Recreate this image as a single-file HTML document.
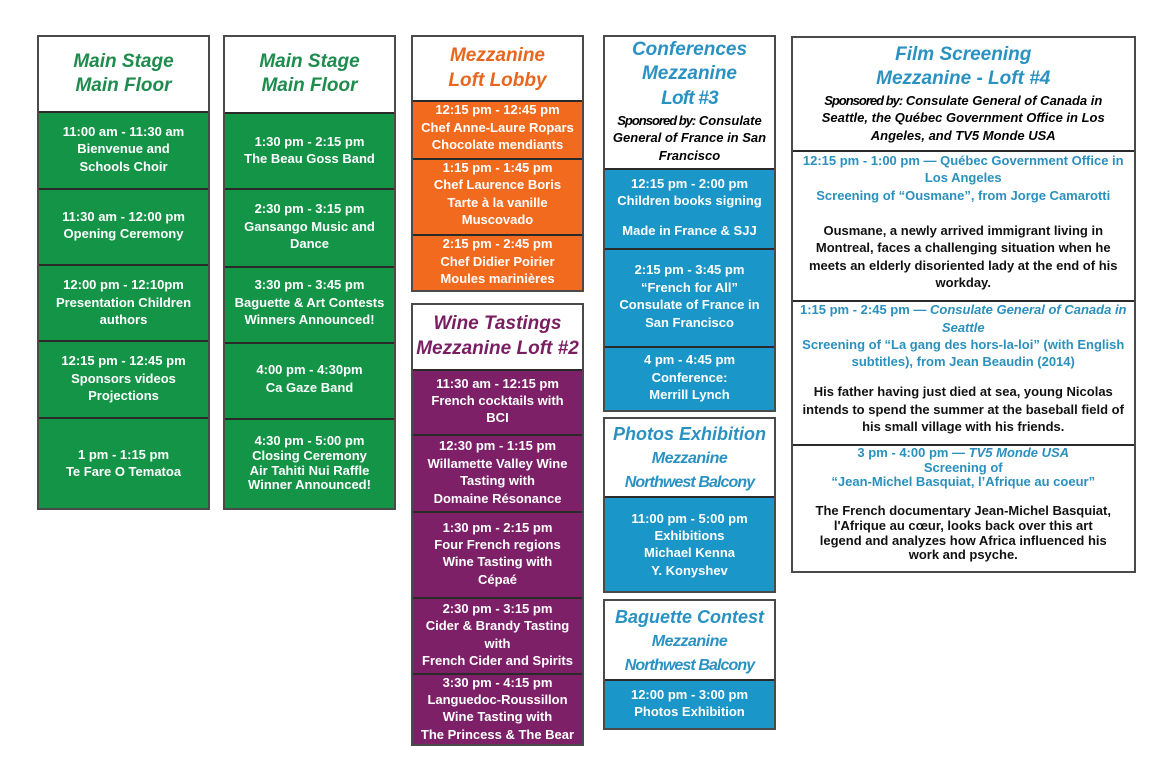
<!DOCTYPE html>
<html><head><meta charset="utf-8">
<style>
*{margin:0;padding:0;box-sizing:border-box}
html,body{width:1170px;height:757px;background:#fff;overflow:hidden}
body{position:relative;font-family:"Liberation Sans",Arial,sans-serif;font-weight:bold}
.box{position:absolute;border:2px solid #4a4a4a;background:#fff;overflow:hidden}
.c{position:absolute;left:0;right:0;border-top:2px solid #2a2a2a}
.g{background:#139447}.o{background:#f26a1e}.p{background:#7d2068}.b{background:#1a96c8}
.t{position:absolute;text-align:center;white-space:nowrap;font-size:13px;line-height:17.4px;color:#fff}
.h{font-style:italic;font-size:19px;line-height:24.5px}
.hg{color:#1d8c4d}.ho{color:#e8661d}.hp{color:#7a1e62}.hb{color:#2a92c2}
.sp{font-style:italic;font-size:13px;line-height:17.3px;color:#000}
.sp .k{letter-spacing:-1px}
.bl{color:#2a90bd}.bk{color:#111}
</style></head><body>

<!-- Column 1 -->
<div class="box" style="left:37px;top:35px;width:173px;height:475px">
  <div class="c g" style="top:74px;height:79px"></div>
  <div class="c g" style="top:151px;height:78px"></div>
  <div class="c g" style="top:227px;height:78px"></div>
  <div class="c g" style="top:303px;height:79px"></div>
  <div class="c g" style="top:380px;height:91px"></div>
</div>
<div class="t h hg" style="left:37px;width:173px;top:49.5px">Main Stage<br>Main Floor</div>
<div class="t" style="left:37px;width:173px;top:123px">11:00 am - 11:30 am<br>Bienvenue and<br>Schools Choir</div>
<div class="t" style="left:37px;width:173px;top:208px">11:30 am - 12:00 pm<br>Opening Ceremony</div>
<div class="t" style="left:37px;width:173px;top:276.3px">12:00 pm - 12:10pm<br>Presentation Children<br>authors</div>
<div class="t" style="left:37px;width:173px;top:352.3px">12:15 pm - 12:45 pm<br>Sponsors videos<br>Projections</div>
<div class="t" style="left:37px;width:173px;top:445.6px">1 pm - 1:15 pm<br>Te Fare O Tematoa</div>

<!-- Column 2 -->
<div class="box" style="left:223px;top:35px;width:173px;height:475px">
  <div class="c g" style="top:74.5px;height:78.5px"></div>
  <div class="c g" style="top:151px;height:79.5px"></div>
  <div class="c g" style="top:228.5px;height:78px"></div>
  <div class="c g" style="top:304.5px;height:78.5px"></div>
  <div class="c g" style="top:381px;height:90px"></div>
</div>
<div class="t h hg" style="left:223px;width:173px;top:49.5px">Main Stage<br>Main Floor</div>
<div class="t" style="left:223px;width:173px;top:133px">1:30 pm - 2:15 pm<br>The Beau Goss Band</div>
<div class="t" style="left:223px;width:173px;top:200.3px">2:30 pm - 3:15 pm<br>Gansango Music and<br>Dance</div>
<div class="t" style="left:223px;width:173px;top:276.3px">3:30 pm - 3:45 pm<br>Baguette &amp; Art Contests<br>Winners Announced!</div>
<div class="t" style="left:223px;width:173px;top:361.3px">4:00 pm - 4:30pm<br>Ca Gaze Band</div>
<div class="t" style="left:223px;width:173px;top:434.4px;line-height:14.6px">4:30 pm - 5:00 pm<br>Closing Ceremony<br>Air Tahiti Nui Raffle<br>Winner Announced!</div>

<!-- Column 3 orange -->
<div class="box" style="left:411px;top:35px;width:173px;height:257px">
  <div class="c o" style="top:63px;height:60px"></div>
  <div class="c o" style="top:121.3px;height:78px"></div>
  <div class="c o" style="top:197.3px;height:58px"></div>
</div>
<div class="t h ho" style="left:411px;width:173px;top:42.5px;line-height:25px">Mezzanine<br>Loft Lobby</div>
<div class="t" style="left:411px;width:173px;top:101.3px">12:15 pm - 12:45 pm<br>Chef Anne-Laure Ropars<br>Chocolate mendiants</div>
<div class="t" style="left:411px;width:173px;top:159px">1:15 pm - 1:45 pm<br>Chef Laurence Boris<br>Tarte à la vanille<br>Muscovado</div>
<div class="t" style="left:411px;width:173px;top:235.3px">2:15 pm - 2:45 pm<br>Chef Didier Poirier<br>Moules marinières</div>

<!-- Wine -->
<div class="box" style="left:411px;top:302.5px;width:173px;height:443.5px">
  <div class="c p" style="top:64.5px;height:67.3px"></div>
  <div class="c p" style="top:129.8px;height:78.7px"></div>
  <div class="c p" style="top:206.5px;height:87.7px"></div>
  <div class="c p" style="top:292.2px;height:78.6px"></div>
  <div class="c p" style="top:368.8px;height:71px"></div>
</div>
<div class="t h hp" style="left:411px;width:173px;top:310.8px;line-height:25px">Wine Tastings<br>Mezzanine Loft #2</div>
<div class="t" style="left:411px;width:173px;top:374.6px">11:30 am - 12:15 pm<br>French cocktails with<br>BCI</div>
<div class="t" style="left:411px;width:173px;top:437.3px">12:30 pm - 1:15 pm<br>Willamette Valley Wine<br>Tasting with<br>Domaine Résonance</div>
<div class="t" style="left:411px;width:173px;top:518.6px">1:30 pm - 2:15 pm<br>Four French regions<br>Wine Tasting with<br>Cépaé</div>
<div class="t" style="left:411px;width:173px;top:600px">2:30 pm - 3:15 pm<br>Cider &amp; Brandy Tasting<br>with<br>French Cider and Spirits</div>
<div class="t" style="left:411px;width:173px;top:674px;line-height:17.2px">3:30 pm - 4:15 pm<br>Languedoc-Roussillon<br>Wine Tasting with<br>The Princess &amp; The Bear</div>

<!-- Column 4 conferences -->
<div class="box" style="left:603px;top:35px;width:173px;height:377px">
  <div class="c b" style="top:130.7px;height:82px"></div>
  <div class="c b" style="top:210.7px;height:100px"></div>
  <div class="c b" style="top:308.7px;height:66.3px"></div>
</div>
<div class="t h hb" style="left:603px;width:173px;top:37.6px;line-height:24.7px">Conferences<br>Mezzanine<br><span style="letter-spacing:-0.8px">Loft #3</span></div>
<div class="t sp" style="left:603px;width:173px;top:112px"><span class="k">Sponsored by:</span> Consulate<br>General of France in San<br>Francisco</div>
<div class="t" style="left:603px;width:173px;top:174.6px">12:15 pm - 2:00 pm<br>Children books signing</div>
<div class="t" style="left:603px;width:173px;top:222.3px">Made in France &amp; SJJ</div>
<div class="t" style="left:603px;width:173px;top:261.3px">2:15 pm - 3:45 pm<br>“French for All”<br>Consulate of France in<br>San Francisco</div>
<div class="t" style="left:603px;width:173px;top:351.3px">4 pm - 4:45 pm<br>Conference:<br>Merrill Lynch</div>

<!-- Photos -->
<div class="box" style="left:603px;top:417px;width:173px;height:176px">
  <div class="c b" style="top:77.3px;height:94.7px"></div>
</div>
<div class="t h hb" style="left:603px;width:173px;top:422.6px;line-height:23.3px;font-size:18px">Photos Exhibition<br><span style="font-size:16px;letter-spacing:-0.5px">Mezzanine</span><br><span style="font-size:16px;letter-spacing:-0.9px">Northwest Balcony</span></div>
<div class="t" style="left:603px;width:173px;top:509.6px">11:00 pm - 5:00 pm<br>Exhibitions<br>Michael Kenna<br>Y. Konyshev</div>

<!-- Baguette -->
<div class="box" style="left:603px;top:599px;width:173px;height:131px">
  <div class="c b" style="top:78.3px;height:48.7px"></div>
</div>
<div class="t h hb" style="left:603px;width:173px;top:605.7px;line-height:23.2px;font-size:18px">Baguette Contest<br><span style="font-size:16px;letter-spacing:-0.5px">Mezzanine</span><br><span style="font-size:16px;letter-spacing:-0.9px">Northwest Balcony</span></div>
<div class="t" style="left:603px;width:173px;top:687.2px;line-height:16.8px">12:00 pm - 3:00 pm<br>Photos Exhibition</div>

<!-- Film -->
<div class="box" style="left:791px;top:35.5px;width:344.5px;height:537.5px">
  <div class="c" style="top:112.5px;height:152px"></div>
  <div class="c" style="top:262.5px;height:146px"></div>
  <div class="c" style="top:406.5px;height:127px"></div>
</div>
<div class="t h hb" style="left:791px;width:344.5px;top:42.8px;line-height:24.3px">Film Screening<br>Mezzanine - Loft #4</div>
<div class="t sp" style="left:791px;width:344.5px;top:92px;line-height:17.3px"><span class="k">Sponsored by:</span> Consulate General of Canada in<br>Seattle, the Québec Government Office in Los<br>Angeles, and TV5 Monde USA</div>
<div class="t bl" style="left:791px;width:344.5px;top:151.9px;line-height:17.6px">12:15 pm - 1:00 pm — Québec Government Office in<br>Los Angeles<br>Screening of “Ousmane”, from Jorge Camarotti</div>
<div class="t bk" style="left:791px;width:344.5px;top:222px;line-height:17.3px">Ousmane, a newly arrived immigrant living in<br>Montreal, faces a challenging situation when he<br>meets an elderly disoriented lady at the end of his<br>workday.</div>
<div class="t bl" style="left:791px;width:344.5px;top:301.3px;line-height:17.3px">1:15 pm - 2:45 pm — <i>Consulate General of Canada in</i><br><i>Seattle</i><br>Screening of “La gang des hors-la-loi” (with English<br>subtitles), from Jean Beaudin (2014)</div>
<div class="t bk" style="left:791px;width:344.5px;top:383.3px;line-height:17.4px">His father having just died at sea, young Nicolas<br>intends to spend the summer at the baseball field of<br>his small village with his friends.</div>
<div class="t bl" style="left:791px;width:344.5px;top:446px;line-height:14.7px">3 pm - 4:00 pm — <i>TV5 Monde USA</i><br>Screening of<br>“Jean-Michel Basquiat, l’Afrique au coeur”</div>
<div class="t bk" style="left:791px;width:344.5px;top:504.3px;line-height:14.7px">The French documentary Jean-Michel Basquiat,<br>l'Afrique au cœur, looks back over this art<br>legend and analyzes how Africa influenced his<br>work and psyche.</div>

</body></html>
